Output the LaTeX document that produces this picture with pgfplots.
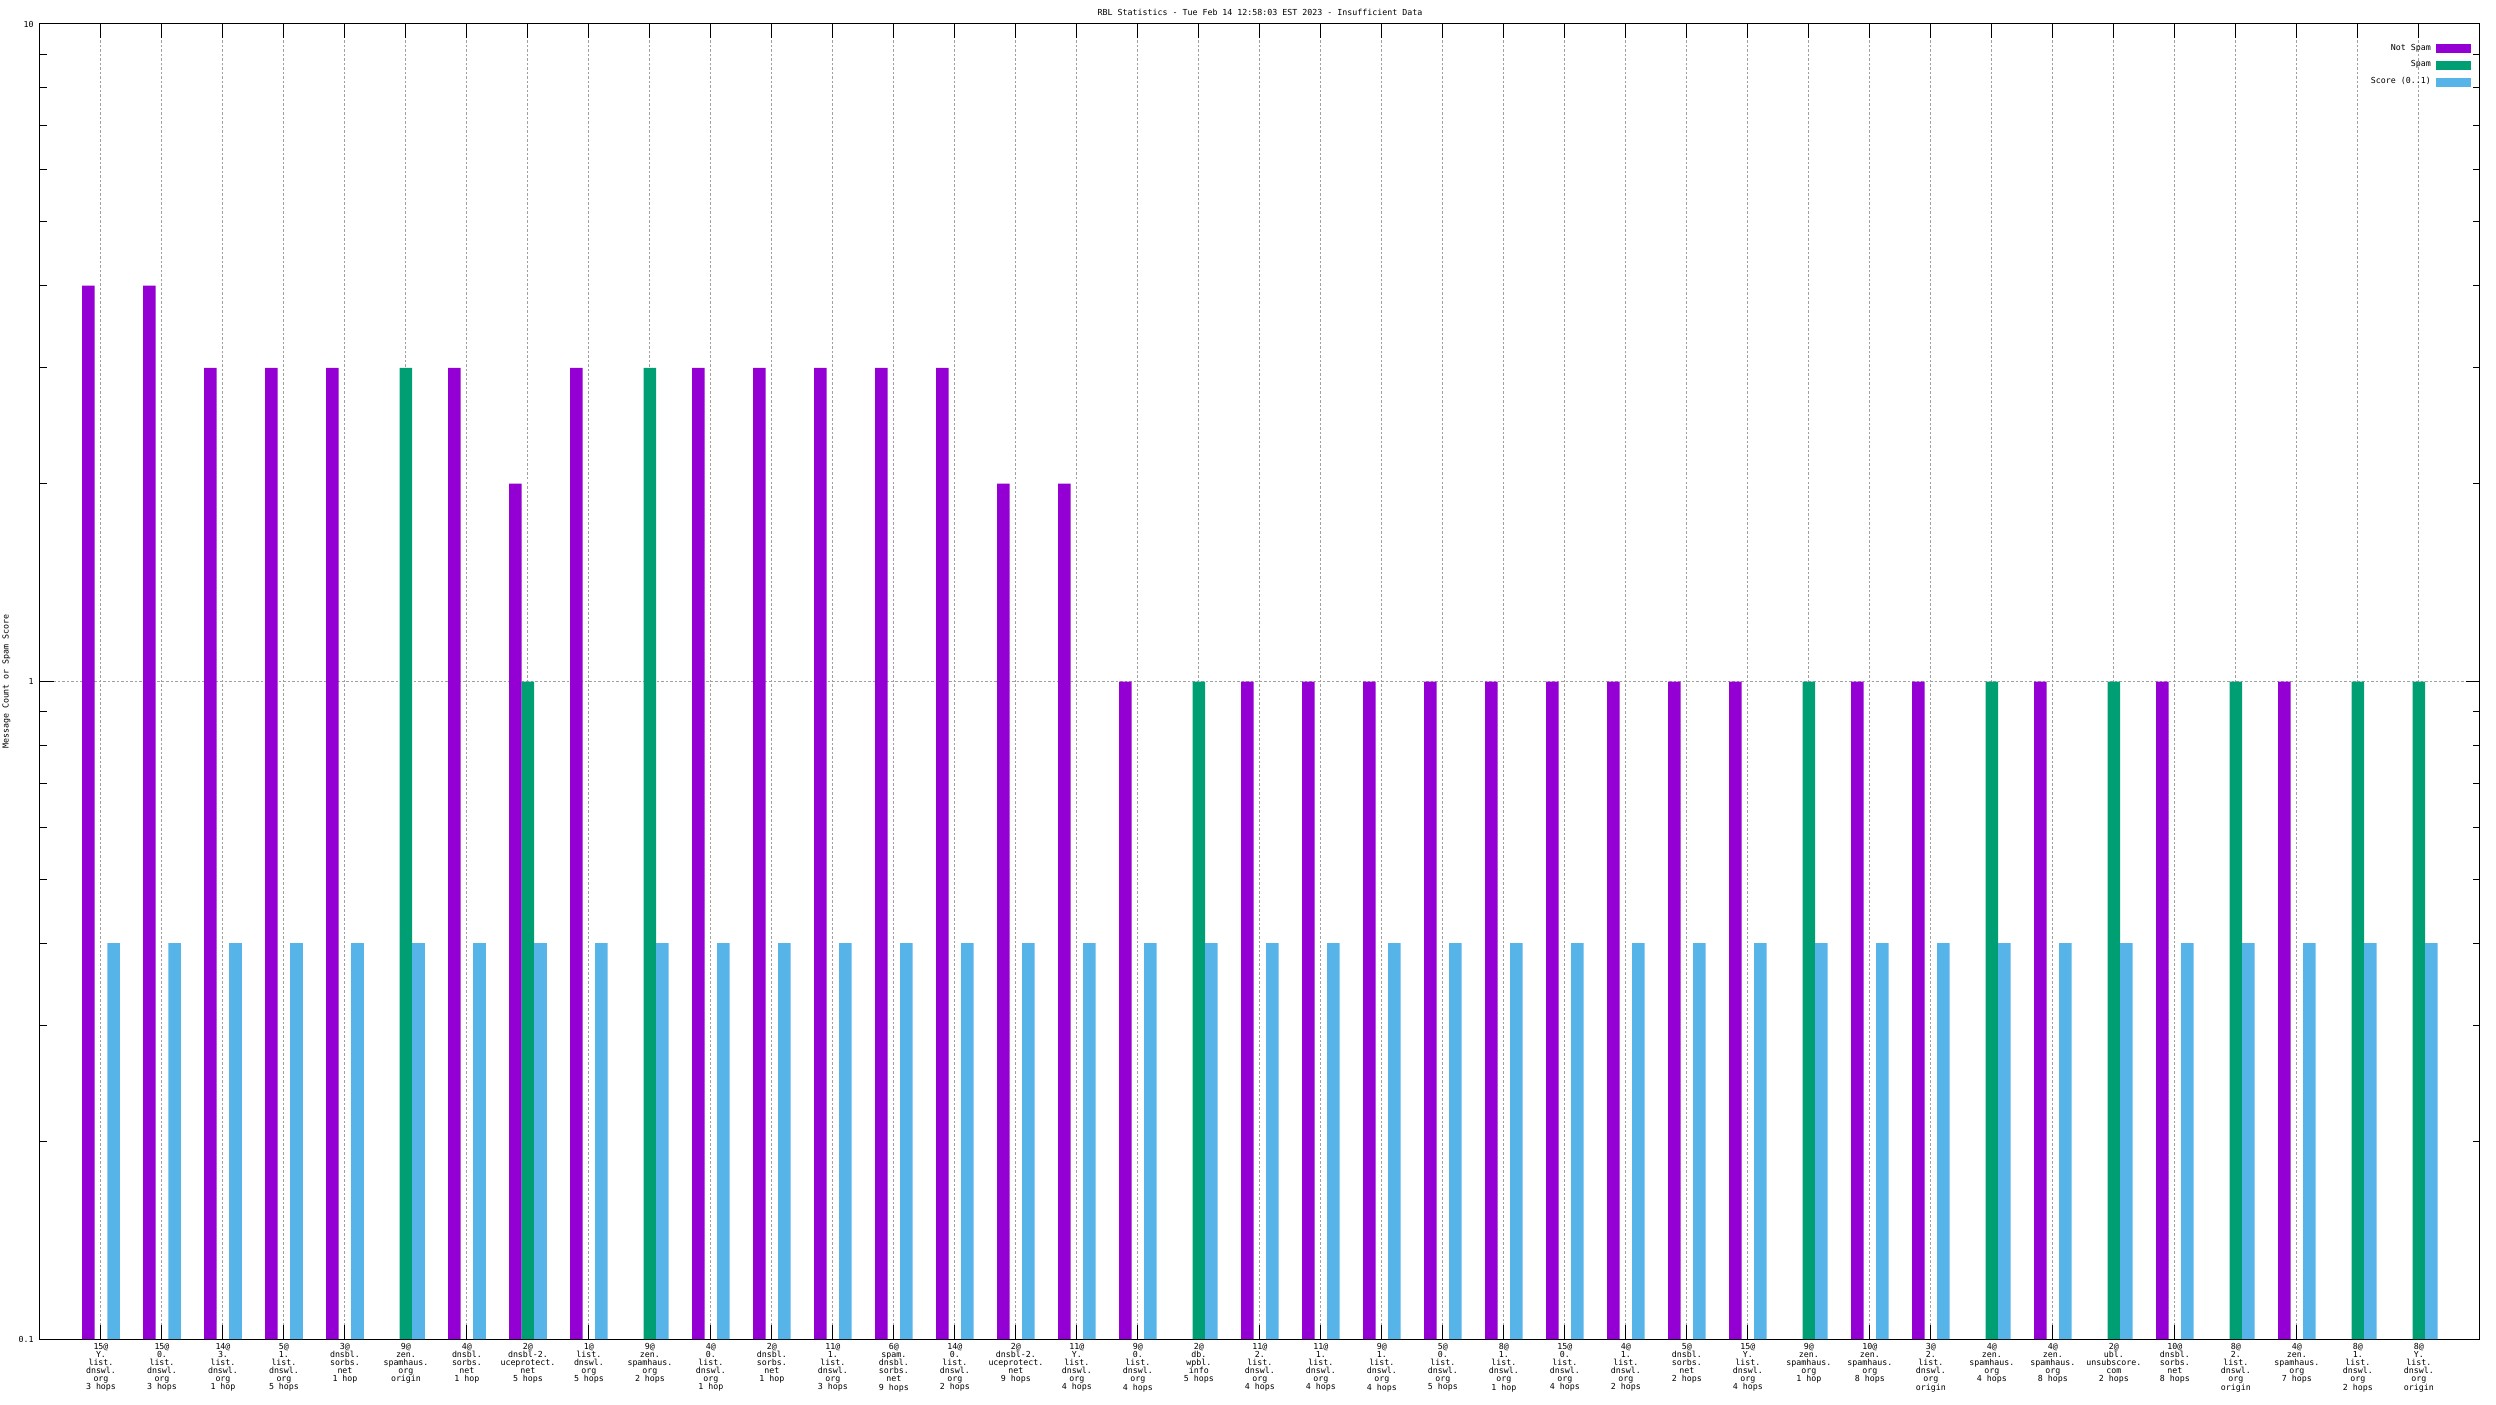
\documentclass[border=0pt]{standalone}
\usepackage{fontspec}
\setmainfont{DejaVu Sans Mono}
\usepackage{pgfplots}
\pgfplotsset{compat=1.18}
\definecolor{cNS}{HTML}{9400D3}
\definecolor{cSp}{HTML}{009E73}
\definecolor{cSc}{HTML}{56B4E9}
\definecolor{cGrid}{HTML}{A0A0A0}
\newcommand{\tf}{\fontsize{4.15pt}{4.05pt}\selectfont}
\begin{document}
\begin{tikzpicture}
\path[use as bounding box] (-20pt,-32.5pt) rectangle (1228pt,669.5pt);
\begin{axis}[
  at={(0pt,0pt)}, anchor=south west,
  scale only axis, width=1220pt, height=657.5pt,
  ymode=log, ymin=0.1, ymax=10, log origin y=infty,
  xmin=-1, xmax=39,
  xtick={0,...,38},
  xticklabels={
    {15@\\Y.\\list.\\dnswl.\\org\\3 hops},
    {15@\\0.\\list.\\dnswl.\\org\\3 hops},
    {14@\\3.\\list.\\dnswl.\\org\\1 hop},
    {5@\\1.\\list.\\dnswl.\\org\\5 hops},
    {3@\\dnsbl.\\sorbs.\\net\\1 hop},
    {9@\\zen.\\spamhaus.\\org\\origin},
    {4@\\dnsbl.\\sorbs.\\net\\1 hop},
    {2@\\dnsbl-2.\\uceprotect.\\net\\5 hops},
    {1@\\list.\\dnswl.\\org\\5 hops},
    {9@\\zen.\\spamhaus.\\org\\2 hops},
    {4@\\0.\\list.\\dnswl.\\org\\1 hop},
    {2@\\dnsbl.\\sorbs.\\net\\1 hop},
    {11@\\1.\\list.\\dnswl.\\org\\3 hops},
    {6@\\spam.\\dnsbl.\\sorbs.\\net\\9 hops},
    {14@\\0.\\list.\\dnswl.\\org\\2 hops},
    {2@\\dnsbl-2.\\uceprotect.\\net\\9 hops},
    {11@\\Y.\\list.\\dnswl.\\org\\4 hops},
    {9@\\0.\\list.\\dnswl.\\org\\4 hops},
    {2@\\db.\\wpbl.\\info\\5 hops},
    {11@\\2.\\list.\\dnswl.\\org\\4 hops},
    {11@\\1.\\list.\\dnswl.\\org\\4 hops},
    {9@\\1.\\list.\\dnswl.\\org\\4 hops},
    {5@\\0.\\list.\\dnswl.\\org\\5 hops},
    {8@\\1.\\list.\\dnswl.\\org\\1 hop},
    {15@\\0.\\list.\\dnswl.\\org\\4 hops},
    {4@\\1.\\list.\\dnswl.\\org\\2 hops},
    {5@\\dnsbl.\\sorbs.\\net\\2 hops},
    {15@\\Y.\\list.\\dnswl.\\org\\4 hops},
    {9@\\zen.\\spamhaus.\\org\\1 hop},
    {10@\\zen.\\spamhaus.\\org\\8 hops},
    {3@\\2.\\list.\\dnswl.\\org\\origin},
    {4@\\zen.\\spamhaus.\\org\\4 hops},
    {4@\\zen.\\spamhaus.\\org\\8 hops},
    {2@\\ubl.\\unsubscore.\\com\\2 hops},
    {10@\\dnsbl.\\sorbs.\\net\\8 hops},
    {8@\\2.\\list.\\dnswl.\\org\\origin},
    {4@\\zen.\\spamhaus.\\org\\7 hops},
    {8@\\1.\\list.\\dnswl.\\org\\2 hops},
    {8@\\Y.\\list.\\dnswl.\\org\\origin}
  },
  ytick={0.1,1,10}, yticklabels={0.1,1,10},
  minor ytick={0.2,0.3,0.4,0.5,0.6,0.7,0.8,0.9,2,3,4,5,6,7,8,9},
  tick align=inside,
  major tick length=7pt, minor tick length=3.5pt,
  every tick/.style={black, line width=0.5pt},
  axis line style={black, line width=0.5pt},
  xmajorgrids, ymajorgrids,
  major grid style={cGrid, line width=0.5pt, dash pattern=on 1.25pt off 1pt},
  xticklabel style={align=center, anchor=north, inner sep=0pt, yshift=-2pt, font=\tf},
  yticklabel style={anchor=east, inner sep=0pt, xshift=-3pt, font=\tf},
  title={RBL Statistics - Tue Feb 14 12:58:03 EST 2023 - Insufficient Data},
  every axis title/.style={at={(axis description cs:0.5,1)}, anchor=base, yshift=4.15pt, inner sep=0pt, font=\tf},
  ylabel={Message Count or Spam Score},
  ylabel style={at={(axis description cs:-0.01373,0.5)}, anchor=center, inner sep=0pt, font=\tf},
  legend cell align=right,
  legend plot pos=right,
  legend image code/.code={\fill[#1,draw=none] (0pt,-2.25pt) rectangle (17.5pt,2.25pt);},
  legend style={at={(axis description cs:0.99631,0.9848)}, anchor=north east,
    draw=none, fill=none, inner sep=0pt, outer sep=0pt,
    row sep=3.8pt, column sep=2.5pt, font=\tf, nodes={inner sep=0pt}},
]
\addplot[ybar, bar width=0.205, bar shift=-0.205, fill=cNS, draw=none] coordinates {
  (0,4) (1,4) (2,3) (3,3) (4,3) (6,3) (7,2) (8,3) (10,3) (11,3) (12,3) (13,3)
  (14,3) (15,2) (16,2) (17,1) (19,1) (20,1) (21,1) (22,1) (23,1) (24,1) (25,1)
  (26,1) (27,1) (29,1) (30,1) (32,1) (34,1) (36,1)
};
\addlegendentry{Not Spam}
\addplot[ybar, bar width=0.205, bar shift=0, fill=cSp, draw=none] coordinates {
  (5,3) (7,1) (9,3) (18,1) (28,1) (31,1) (33,1) (35,1) (37,1) (38,1)
};
\addlegendentry{Spam}
\addplot[ybar, bar width=0.205, bar shift=0.205, fill=cSc, draw=none] coordinates {
  (0,0.4) (1,0.4) (2,0.4) (3,0.4) (4,0.4) (5,0.4) (6,0.4) (7,0.4) (8,0.4) (9,0.4)
  (10,0.4) (11,0.4) (12,0.4) (13,0.4) (14,0.4) (15,0.4) (16,0.4) (17,0.4) (18,0.4)
  (19,0.4) (20,0.4) (21,0.4) (22,0.4) (23,0.4) (24,0.4) (25,0.4) (26,0.4) (27,0.4)
  (28,0.4) (29,0.4) (30,0.4) (31,0.4) (32,0.4) (33,0.4) (34,0.4) (35,0.4) (36,0.4)
  (37,0.4) (38,0.4)
};
\addlegendentry{Score (0..1)}
\end{axis}
\end{tikzpicture}
\end{document}
